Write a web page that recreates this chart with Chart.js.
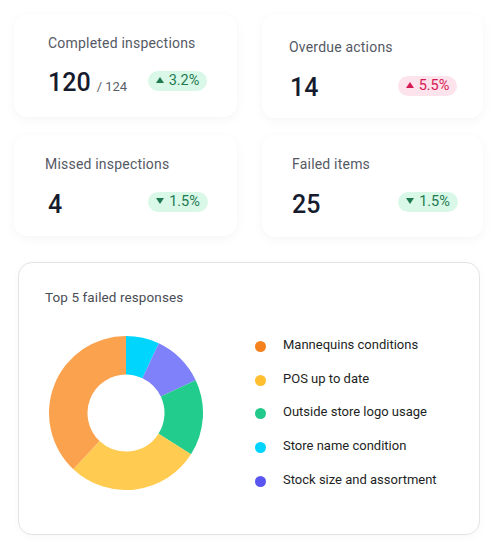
<!DOCTYPE html>
<html>
<head>
<meta charset="utf-8">
<script src="https://cdn.jsdelivr.net/npm/chart.js@4.4.1/dist/chart.umd.min.js"></script>
<style>
  html,body{margin:0;padding:0;background:#fff;}
  body{width:497px;height:552px;position:relative;overflow:hidden;font-family:Roboto,"Noto Sans",Arial,sans-serif;}
  .card{position:absolute;background:#fff;border-radius:13px;box-shadow:0 3px 12px rgba(0,0,0,0.04),0 0 2px rgba(0,0,0,0.02);}
  .lbl{position:absolute;font-size:14px;color:#555964;white-space:nowrap;line-height:1;letter-spacing:0.2px;}
  .num{position:absolute;font-size:25px;font-weight:500;color:#161b2e;white-space:nowrap;line-height:1;}
  .num small{font-size:13px;font-weight:400;color:#5a5e68;margin-left:6px;}
  .badge{position:absolute;height:20px;border-radius:10px;font-size:14.5px;line-height:20px;text-align:center;white-space:nowrap;}
  .badge.up{background:#d9f8e8;color:#1f7a50;}
  .badge.bad{background:#fde3eb;color:#d51a54;}
  .badge.down{background:#d9f8e8;color:#1f7a50;}
  .tri{display:inline-block;width:0;height:0;border-left:4px solid transparent;border-right:4px solid transparent;vertical-align:middle;margin-right:5px;position:relative;top:-1px;}
  .tri.u{border-bottom:6px solid currentColor;}
  .tri.d{border-top:6px solid currentColor;}
  #panel{position:absolute;left:18px;top:262px;width:460px;height:271px;border:1px solid #e4e4e4;border-radius:14px;background:#fff;box-shadow:0 2px 8px rgba(0,0,0,0.03);}
  #title{position:absolute;left:45px;top:291px;font-size:13.5px;color:#4a4d55;line-height:1;white-space:nowrap;letter-spacing:0.1px;}
  #chartWrap{position:absolute;left:49px;top:336px;width:154px;height:154px;}
  .leg{position:absolute;left:0;font-size:13px;color:#1e1f24;white-space:nowrap;line-height:1;}
  .dot{position:absolute;width:11px;height:11px;border-radius:50%;}
</style>
</head>
<body>
<div class="card" style="left:14px;top:14px;width:223px;height:103px;"></div>
<div class="card" style="left:262px;top:14px;width:221px;height:104px;"></div>
<div class="card" style="left:14px;top:135px;width:223px;height:101px;"></div>
<div class="card" style="left:262px;top:135px;width:221px;height:102px;"></div>
<div id="kpis"></div>
<div id="panel"></div>
<div id="title">Top 5 failed responses</div>
<div id="chartWrap"><canvas id="c" width="154" height="154"></canvas></div>
<div id="legend"></div>
<script>
// KPI data
const kpiLabels = ["Completed inspections", "Overdue actions", "Missed inspections", "Failed items"];
const kpiValues = ["120", "14", "4", "25"];
const kpiTotals = ["124", "", "", ""];
const kpiChanges = ["3.2%", "5.5%", "1.5%", "1.5%"];
const kpiDirections = ["up", "up", "down", "down"];

// Donut data (legend order)
const categories = ["Mannequins conditions", "POS up to date", "Outside store logo usage", "Store name condition", "Stock size and assortment"];
const values = [38, 28, 16, 7, 11];
const sliceColors = ["#FBA24E", "#FFCB50", "#22CC8C", "#00D5FE", "#7E81FA"];
const legendColors = ["#F5821F", "#FFBF30", "#22C98A", "#00D4FF", "#5A55F0"];
// clockwise drawing order starting at 12 o'clock
const sliceOrder = [3, 4, 2, 1, 0];

// KPI layout
const kpiPos = [
  {lx:48, ly:36, nx:48, ny:70, bx:148, by:71, bw:59},
  {lx:289, ly:40, nx:290, ny:75, bx:398, by:76, bw:59},
  {lx:45, ly:157, nx:48, ny:192, bx:148, by:192, bw:60},
  {lx:292, ly:157, nx:292, ny:192, bx:398, by:192, bw:60}
];
const kpiEl = document.getElementById('kpis');
kpiLabels.forEach((l, i) => {
  const p = kpiPos[i];
  const lab = document.createElement('div');
  lab.className = 'lbl'; lab.style.left = p.lx + 'px'; lab.style.top = p.ly + 'px';
  lab.textContent = l; kpiEl.appendChild(lab);
  const n = document.createElement('div');
  n.className = 'num'; n.style.left = p.nx + 'px'; n.style.top = p.ny + 'px';
  n.textContent = kpiValues[i];
  if (kpiTotals[i]) { const s = document.createElement('small'); s.textContent = '/ ' + kpiTotals[i]; n.appendChild(s); }
  kpiEl.appendChild(n);
  const b = document.createElement('div');
  const bad = i === 1;
  b.className = 'badge ' + (bad ? 'bad' : kpiDirections[i]);
  b.style.left = p.bx + 'px'; b.style.top = p.by + 'px'; b.style.width = p.bw + 'px';
  const t = document.createElement('span');
  t.className = 'tri ' + (kpiDirections[i] === 'up' ? 'u' : 'd');
  b.appendChild(t);
  b.appendChild(document.createTextNode(kpiChanges[i]));
  kpiEl.appendChild(b);
});

// Legend
const legEl = document.getElementById('legend');
const rowY = [344, 378, 411, 445, 479];
categories.forEach((c, i) => {
  const d = document.createElement('div');
  d.className = 'dot'; d.style.background = legendColors[i];
  d.style.left = (260.5 - 5.5) + 'px'; d.style.top = (rowY[i] + 2 - 5.5) + 'px';
  legEl.appendChild(d);
  const t = document.createElement('div');
  t.className = 'leg'; t.style.left = '283px'; t.style.top = (rowY[i] - 6.5) + 'px';
  t.textContent = c; legEl.appendChild(t);
});

new Chart(document.getElementById('c'), {
  type: 'doughnut',
  data: {
    labels: sliceOrder.map(i => categories[i]),
    datasets: [{
      data: sliceOrder.map(i => values[i]),
      backgroundColor: sliceOrder.map(i => sliceColors[i]),
      borderWidth: 0,
      hoverOffset: 0,
      offset: 0
    }]
  },
  options: {
    responsive: false,
    animation: false,
    cutout: '50%',
    layout: {padding: 0},
    events: [],
    plugins: {legend: {display: false}, tooltip: {enabled: false}}
  }
});
</script>
</body>
</html>
